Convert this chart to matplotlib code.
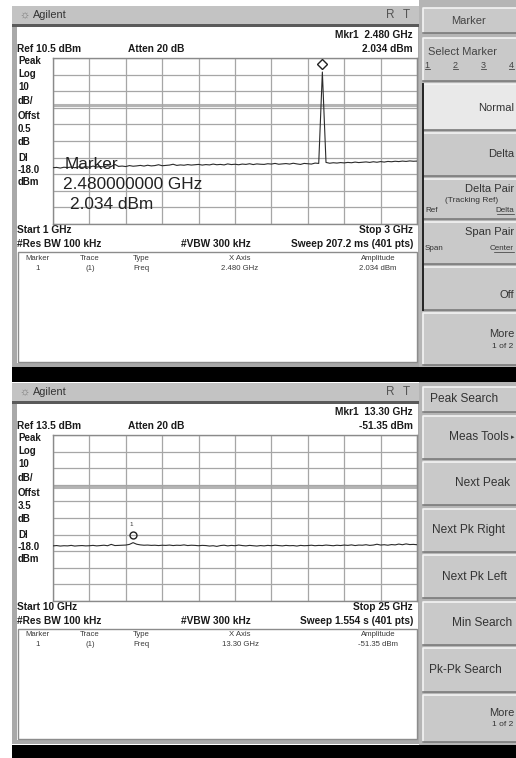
import numpy as np
import matplotlib
matplotlib.use('Agg')
import matplotlib.pyplot as plt
from matplotlib.patches import Rectangle
from matplotlib.transforms import ScaledTranslation

plt.rcParams['font.family'] = ['Liberation Sans', 'DejaVu Sans']

W, H = 516, 758

# ---- values (GHz / dBm)
top_start, top_stop, top_ref = 1.0, 3.0, 10.5
top_levels = [
	-55.6, -55.4, -55.8, -55.3, -55.5, -55.2, -55.6, -55.1, -55.4, -55.0,
	-55.3, -54.6, -55.2, -54.9, -55.1, -54.4, -54.9, -53.6, -54.8, -54.6,
	-54.9, -54.3, -54.7, -54.5, -54.2, -54.6, -54.1, -54.5, -54.3, -53.8,
	-54.4, -54.2, -54.0, -53.5, -54.2, -53.9, -54.1, -53.7, -54.0, -53.8,
	-53.6, -54.0, -53.7, -53.9, -53.4, -53.8, -53.6, -53.9, -53.3, -53.7,
	-53.5, -53.8, -53.4, -53.6, -53.2, -53.7, -53.3, -53.5, -53.6, -53.2,
	-53.4, -53.0, -53.5, -53.3, -53.1, -53.4, -52.9, -53.3, -53.6, -53.0,
	-53.2, -53.4, -52.8, -53.0, 2.034, -52.4, -52.9, -52.6, -52.8, -52.5,
	-52.7, -52.4, -52.6, -52.2, -52.5, -52.3, -52.1, -52.4, -52.0, -52.3,
	-51.9, -52.2, -51.8, -52.0, -51.7, -51.9, -51.6, -51.8, -51.5, -51.7, -51.6]
top_mkr_freq, top_mkr_amp = 2.480, 2.034

bot_start, bot_stop, bot_ref = 10.0, 25.0, 13.5
bot_levels = [
	-53.3, -53.1, -53.4, -53.2, -53.3, -53.0, -53.4, -53.2, -53.1, -53.3,
	-53.2, -53.0, -53.3, -53.1, -52.9, -53.2, -52.4, -53.1, -53.0, -52.9,
	-52.8, -52.4, -51.35, -52.3, -52.7, -52.9, -52.8, -53.0, -52.9, -53.1,
	-52.9, -53.0, -52.8, -53.1, -52.9, -53.0, -52.7, -53.1, -52.9, -53.0,
	-53.2, -53.0, -53.1, -53.4, -53.2, -53.6, -53.1, -52.9, -53.3, -53.0,
	-53.2, -52.8, -53.1, -53.3, -53.0, -53.2, -53.4, -53.1, -53.3, -53.0,
	-53.2, -52.9, -53.1, -53.3, -53.0, -53.2, -53.1, -53.4, -53.0, -53.2,
	-53.1, -52.9, -53.2, -53.0, -53.1, -52.8, -53.0, -53.2, -52.9, -53.1,
	-52.8, -53.0, -52.7, -53.1, -52.8, -52.9, -52.6, -53.0, -52.8, -52.3,
	-52.8, -52.6, -52.9, -52.5, -52.7, -52.2, -52.6, -52.1, -52.5, -52.4, -52.6]
bot_mkr_freq, bot_mkr_amp = 13.30, -51.35

display_line = -18.0
db_per_div = 10

top_left_labels = ['Peak', 'Log', '10', 'dB/', 'Offst', '0.5', 'dB', 'Dl', '-18.0', 'dBm']
bot_left_labels = ['Peak', 'Log', '10', 'dB/', 'Offst', '3.5', 'dB', 'Dl', '-18.0', 'dBm']

top_keys = ['Marker', 'Select Marker', 'Normal', 'Delta', 'Delta Pair', 'Span Pair', 'Off', 'More']
bot_keys = ['Peak Search', 'Meas Tools', 'Next Peak', 'Next Pk Right', 'Next Pk Left',
	'Min Search', 'Pk-Pk Search', 'More']

fig = plt.figure(figsize=(W / 100, H / 100), dpi=100)
bg = fig.add_axes([0, 0, 1, 1])
bg.set_xlim(0, W)
bg.set_ylim(H, 0)
bg.axis('off')

def rect(x0, y0, x1, y1, fc, ec='none', lw=0, z=1):
	bg.add_patch(Rectangle((x0, y0), x1 - x0, y1 - y0, fc=fc, ec=ec, lw=lw, zorder=z))

def key(x0, y0, x1, y1, fc='#c9c9c9'):
	rect(x0, y0, x1, y1, fc, z=2)
	bg.plot([x0, x0, x1], [y1, y0, y0], color='#f4f4f4', lw=1.2, zorder=3)
	bg.plot([x0, x1, x1], [y1, y1, y0], color='#7a7a7a', lw=1.2, zorder=3)

def txt(x, y, s, size=7.3, bold=False, ha='left', color='#1a1a1a', **kw):
	bg.text(x, y, s, fontsize=size, fontweight='bold' if bold else 'normal',
		ha=ha, va='center', color=color, **kw)

def screen(oy, start, stop, ref, levels, mkr_f, mkr_a, left_labels, hdr, marker_style):
	# title bar
	rect(12, oy + 6, 419, oy + 24, '#c3c3c3')
	rect(12, oy + 24, 419, oy + 26.5, '#5a5a5a')
	txt(24, oy + 15, '\u263c', size=8, ha='center', color='#777777')
	txt(33, oy + 15, 'Agilent', size=7.8, color='#333333')
	txt(390, oy + 15, 'R', size=8.5, ha='center', color='#555555')
	txt(406, oy + 15, 'T', size=8.5, ha='center', color='#555555')
	# screen body
	rect(12, oy + 26.5, 421, oy + 367, '#a9a9a9')
	rect(16.5, oy + 27, 418, oy + 363, 'white')
	txt(413, oy + 35, hdr['mkr'], bold=True, ha='right')
	txt(17, oy + 49, hdr['ref'], bold=True)
	txt(128, oy + 49, 'Atten 20 dB', bold=True)
	txt(413, oy + 49, hdr['amp'], bold=True, ha='right')
	for i, lab in enumerate(left_labels):
		yy = [61, 74, 87, 101, 116, 129, 142, 158, 170, 182][i]
		txt(18, oy + yy, lab, bold=True, size=7.0)
	txt(17, oy + 230, hdr['start'], bold=True)
	txt(413, oy + 230, hdr['stop'], bold=True, ha='right')
	txt(17, oy + 244, '#Res BW 100 kHz', bold=True)
	txt(181, oy + 244, '#VBW 300 kHz', bold=True)
	txt(413, oy + 244, hdr['sweep'], bold=True, ha='right')
	# marker table
	rect(17.5, oy + 252, 417, oy + 362, 'white', ec='#8c8c8c', lw=1.0, z=2)
	cols = [(38, 'center'), (90, 'center'), (133, 'left'), (240, 'center'), (378, 'center')]
	heads = ['Marker', 'Trace', 'Type', 'X Axis', 'Amplitude']
	row = ['1', '(1)', 'Freq', hdr['xval'], hdr['amp']]
	for (cx, ha), h, r in zip(cols, heads, row):
		txt(cx, oy + 258, h, size=5.6, ha=ha, color='#3a3a3a', zorder=4)
		txt(cx, oy + 268, r, size=5.6, ha=ha, color='#3a3a3a', zorder=4)

	# trace area
	gx0, gx1, gy0, gy1 = 53, 417, oy + 58, oy + 224
	ax = fig.add_axes([gx0 / W, 1 - gy1 / H, (gx1 - gx0) / W, (gy1 - gy0) / H])
	ax.set_facecolor('none')
	bottom = ref - 10 * db_per_div
	ax.set_xlim(start, stop)
	ax.set_ylim(bottom, ref)
	ax.set_xticks(np.linspace(start, stop, 11))
	ax.set_yticks(np.linspace(bottom, ref, 11))
	ax.tick_params(length=0, labelbottom=False, labelleft=False)
	ax.grid(True, color='#a6a6a6', lw=0.9)
	for sp in ax.spines.values():
		sp.set_color('#8a8a8a')
		sp.set_linewidth(1.0)
	ax.axhline(display_line, color='#b4b4b4', lw=2.2, zorder=1)
	freqs = np.linspace(start, stop, len(levels))
	ax.plot(freqs, levels, color='#2b2b2b', lw=0.8, zorder=3)
	up = ax.transData + ScaledTranslation(0, 5.5 / 72, fig.dpi_scale_trans)
	ax.plot([mkr_f], [mkr_a], marker=marker_style, ms=5, mfc='none', mec='#222222',
		mew=1.0, transform=up, zorder=4, clip_on=False)
	if marker_style == 'o':
		ax.annotate('1', xy=(mkr_f, mkr_a), xytext=(-1, 13), textcoords='offset points',
			ha='center', va='center', fontsize=4.5, color='#333333')
	return ax

top_hdr = dict(mkr='Mkr1  %.3f GHz' % top_mkr_freq, ref='Ref %.1f dBm' % top_ref,
	amp='%.3f dBm' % top_mkr_amp, start='Start 1 GHz', stop='Stop 3 GHz',
	sweep='Sweep 207.2 ms (401 pts)', xval='%.3f GHz' % top_mkr_freq)
bot_hdr = dict(mkr='Mkr1  %.2f GHz' % bot_mkr_freq, ref='Ref %.1f dBm' % bot_ref,
	amp='%.2f dBm' % bot_mkr_amp, start='Start 10 GHz', stop='Stop 25 GHz',
	sweep='Sweep 1.554 s (401 pts)', xval='%.2f GHz' % bot_mkr_freq)

rect(12, 0, W, H, 'white', z=0)
ax_top = screen(0, top_start, top_stop, top_ref, top_levels, top_mkr_freq, top_mkr_amp,
	top_left_labels, top_hdr, 'D')
ax_bot = screen(377, bot_start, bot_stop, bot_ref, bot_levels, bot_mkr_freq, bot_mkr_amp,
	bot_left_labels, bot_hdr, 'o')

# big marker readout drawn over the top trace
ax_top.text(0.033, 0.36, 'Marker', transform=ax_top.transAxes, fontsize=12.4, color='#222222', va='center')
ax_top.text(0.027, 0.24, '%.9f GHz' % top_mkr_freq, transform=ax_top.transAxes, fontsize=12.4,
	color='#222222', va='center')
ax_top.text(0.046, 0.12, '%.3f dBm' % top_mkr_amp, transform=ax_top.transAxes, fontsize=12.4,
	color='#222222', va='center')

# black separators
rect(12, 367, W, 382, 'black', z=2)
rect(12, 745, W, H, 'black', z=2)

# softkey column, top screen
rect(419, 0, W, 367, '#b5b5b5', z=1)
rect(419, 377, W, 745, '#b5b5b5', z=1)
kx0, kx1 = 423, 517
top_boxes = [(8, 33), (38, 81), (84, 130), (133, 176), (179, 219), (222, 264), (267, 310), (313, 365)]
for i, (y0, y1) in enumerate(top_boxes):
	key(kx0, y0, kx1, y1, fc='#e9e9e9' if top_keys[i] == 'Normal' else '#c9c9c9')
bg.plot([kx0, kx0], [84, 310], color='#222222', lw=1.4, zorder=4)
txt(469, 21, 'Marker', size=8, ha='center', color='#444444', zorder=5)
txt(428, 52, 'Select Marker', size=8, color='#444444', zorder=5)
for x, s in [(427, '1'), (455, '2'), (483, '3'), (511, '4')]:
	txt(x, 65, s, size=6.5, ha='center', color='#444444', zorder=5)
	bg.plot([x - 2.5, x + 2.5], [69, 69], color='#444444', lw=0.6, zorder=5)
txt(514, 108, 'Normal', size=8, ha='right', color='#333333', zorder=5)
txt(514, 154, 'Delta', size=8, ha='right', color='#333333', zorder=5)
txt(514, 189, 'Delta Pair', size=8, ha='right', color='#333333', zorder=5)
txt(472, 200, '(Tracking Ref)', size=6, ha='center', color='#333333', zorder=5)
txt(425, 210, 'Ref', size=5.8, color='#333333', zorder=5)
txt(514, 210, 'Delta', size=5.8, ha='right', color='#333333', zorder=5)
bg.plot([497, 514], [213.5, 213.5], color='#333333', lw=0.5, zorder=5)
txt(514, 232, 'Span Pair', size=8, ha='right', color='#333333', zorder=5)
txt(425, 248, 'Span', size=5.8, color='#333333', zorder=5)
txt(514, 248, 'Center', size=5.8, ha='right', color='#333333', zorder=5)
bg.plot([494, 514], [251.5, 251.5], color='#333333', lw=0.5, zorder=5)
txt(514, 295, 'Off', size=8, ha='right', color='#333333', zorder=5)
txt(514, 334, 'More', size=8, ha='right', color='#333333', zorder=5)
txt(513, 346, '1 of 2', size=6, ha='right', color='#333333', zorder=5)

# softkey column, bottom screen
bot_boxes = [(387, 412), (416, 459), (462, 505), (509, 552), (555, 598), (602, 645), (648, 692), (695, 742)]
for y0, y1 in bot_boxes:
	key(kx0, y0, kx1, y1)
bot_pos = [(430, 'left'), (509, 'right'), (510, 'right'), (432, 'left'), (475, 'center'),
	(512, 'right'), (429, 'left'), (514, 'right')]
for (y0, y1), (x, ha), lab in zip(bot_boxes, bot_pos, bot_keys):
	yc = (y0 + y1) / 2
	if lab == 'More':
		txt(x, yc - 6, lab, size=8, ha=ha, color='#333333', zorder=5)
		txt(x - 1, yc + 6, '1 of 2', size=6, ha=ha, color='#333333', zorder=5)
	else:
		txt(x, yc, lab, size=8.6, ha=ha, color='#333333', zorder=5)
txt(514, (416 + 459) / 2, '\u25b8', size=5, ha='right', color='#333333', zorder=5)

fig.savefig('out.png', dpi=100)
